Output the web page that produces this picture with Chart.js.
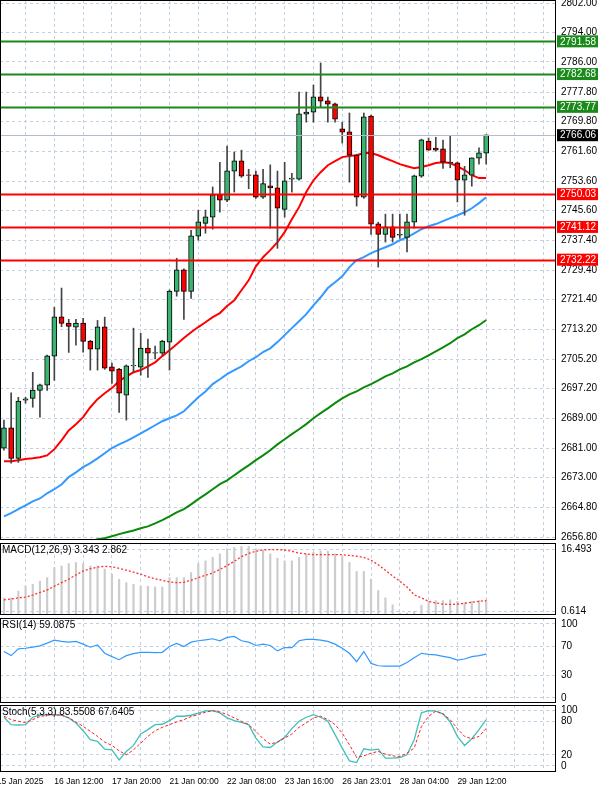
<!DOCTYPE html>
<html>
<head>
<meta charset="utf-8">
<script src="https://cdn.jsdelivr.net/npm/chart.js@4"></script>
<style>
  body { margin: 0; background: #fff; width: 600px; height: 793px; position: relative; overflow: hidden; }
  .pane { position: absolute; left: 0; width: 600px; }
</style>
</head>
<body>
<div class="pane" style="top:0;height:540px"><canvas id="main"></canvas></div>
<div class="pane" style="top:543px;height:72px"><canvas id="macd"></canvas></div>
<div class="pane" style="top:618px;height:85px"><canvas id="rsi"></canvas></div>
<div class="pane" style="top:705px;height:88px"><canvas id="stoch"></canvas></div>
<script>
// 4h candles, 15 Jan - 29 Jan 2025
const opens  = [2681.0,2686.4,2678.2,2694.0,2694.5,2696.7,2698.1,2706.0,2716.6,2714.9,2713.9,2714.9,2710.0,2707.9,2713.9,2703.0,2702.4,2695.4,2703.3,2703.0,2708.1,2706.8,2706.8,2709.8,2723.6,2729.4,2723.6,2738.6,2742.1,2743.8,2749.8,2748.4,2756.3,2759.0,2755.2,2755.2,2749.2,2752.2,2751.7,2745.9,2754.1,2754.1,2771.8,2772.3,2776.4,2775.3,2774.5,2767.7,2766.9,2760.6,2749.2,2771.2,2741.9,2739.1,2741.1,2738.9,2738.3,2742.4,2754.9,2764.4,2762.5,2762.3,2758.7,2758.5,2753.8,2755.2,2759.8,2761.2];
const highs  = [2688.6,2696.0,2694.8,2694.8,2701.6,2698.4,2706.3,2719.3,2724.5,2716.0,2716.0,2716.3,2710.3,2715.7,2716.6,2704.1,2702.7,2703.6,2713.6,2712.2,2710.6,2708.7,2710.3,2724.0,2732.6,2729.7,2740.2,2745.7,2745.7,2752.0,2758.7,2763.1,2761.5,2762.0,2756.8,2756.3,2756.8,2758.0,2756.3,2758.7,2755.7,2777.8,2777.8,2779.7,2785.7,2776.4,2774.8,2769.6,2772.1,2760.9,2772.1,2771.5,2742.4,2744.6,2744.6,2744.6,2744.6,2755.2,2765.0,2765.3,2765.5,2764.7,2765.8,2758.8,2757.6,2759.9,2762.6,2766.1];
const lows   = [2680.4,2676.9,2677.1,2693.2,2692.1,2689.4,2696.7,2699.4,2714.0,2707.0,2709.0,2707.1,2702.2,2702.2,2702.4,2698.6,2690.7,2688.6,2701.6,2700.8,2700.2,2705.2,2706.3,2702.2,2722.3,2716.0,2721.7,2737.5,2739.4,2740.5,2745.1,2748.0,2750.6,2754.6,2751.5,2748.9,2748.9,2740.8,2735.3,2743.8,2750.6,2753.8,2769.6,2769.6,2773.7,2769.6,2769.6,2763.9,2753.3,2746.8,2748.9,2739.1,2730.2,2737.0,2737.0,2738.0,2734.3,2740.8,2754.6,2762.0,2761.7,2757.0,2757.2,2747.9,2744.3,2752.2,2758.2,2758.2];
const closes = [2686.4,2678.2,2693.7,2694.3,2696.7,2698.1,2706.0,2716.6,2714.9,2714.1,2714.9,2710.0,2707.9,2713.9,2702.7,2701.9,2695.9,2703.3,2703.4,2708.1,2706.8,2706.9,2710.0,2723.6,2729.4,2723.6,2738.6,2742.4,2743.8,2749.8,2748.4,2756.3,2759.0,2754.9,2755.1,2749.2,2752.8,2751.7,2746.2,2753.6,2754.3,2771.8,2772.3,2776.4,2775.3,2774.5,2770.4,2766.9,2760.6,2749.2,2771.0,2741.9,2739.1,2741.1,2738.3,2739.0,2742.4,2754.9,2764.7,2762.0,2762.0,2758.7,2758.5,2753.8,2755.2,2759.8,2761.2,2766.1];

const maRed   = [2677.4,2677.4,2677.7,2678.0,2678.2,2678.5,2679.0,2680.7,2683.1,2685.8,2687.5,2689.4,2692.1,2694.3,2695.9,2697.3,2699.2,2700.5,2701.6,2702.2,2703.2,2704.3,2706.0,2707.6,2709.2,2710.9,2712.5,2713.9,2715.2,2716.6,2717.7,2719.6,2721.2,2723.9,2726.6,2730.4,2732.9,2734.8,2737.0,2739.7,2743.2,2746.5,2750.6,2753.8,2756.0,2757.9,2759.0,2760.1,2760.4,2760.6,2761.2,2761.2,2760.6,2759.8,2759.0,2758.2,2757.6,2757.1,2757.4,2757.9,2758.5,2758.7,2758.5,2757.6,2756.6,2755.2,2754.4,2754.4];
const maBlue  = [2662.4,2663.3,2664.4,2665.4,2666.5,2667.3,2668.7,2669.8,2671.1,2673.1,2674.4,2675.8,2676.9,2678.2,2679.6,2681.0,2682.0,2682.9,2683.9,2685.0,2686.1,2687.2,2688.3,2689.1,2689.9,2691.0,2692.9,2694.8,2696.4,2698.4,2699.7,2701.1,2702.2,2703.2,2704.6,2705.7,2707.1,2708.1,2709.8,2711.7,2713.6,2715.5,2717.4,2719.8,2722.0,2724.5,2726.1,2727.7,2730.2,2732.1,2732.9,2734.0,2734.8,2735.6,2736.4,2737.5,2738.3,2739.4,2740.5,2741.3,2741.9,2742.7,2743.5,2744.3,2745.1,2746.2,2747.6,2749.2];
const maGreen = [2647.8,2649.1,2649.7,2650.5,2651.0,2651.6,2652.4,2652.9,2653.5,2654.0,2654.6,2655.1,2655.6,2656.2,2656.5,2657.0,2657.6,2658.1,2658.6,2659.2,2659.7,2660.5,2661.4,2662.4,2663.5,2664.4,2665.7,2667.1,2668.4,2669.8,2671.2,2672.2,2673.6,2675.0,2676.3,2677.7,2679.0,2680.4,2682.0,2683.4,2684.8,2686.1,2687.5,2689.1,2690.5,2691.8,2693.2,2694.5,2695.6,2696.4,2697.5,2698.4,2699.4,2700.5,2701.3,2702.4,2703.2,2704.3,2705.2,2706.2,2707.3,2708.4,2709.5,2710.9,2711.9,2713.3,2714.4,2715.8];

const macdHist   = [4.1,4.1,5.8,7.1,7.6,8.4,9.3,11.9,12.3,12.9,13.2,12.9,12.3,12.3,11.5,10.2,8.9,8.0,7.6,7.1,7.1,6.9,6.9,9.3,9.3,9.3,10.6,12.9,13.6,14.5,15.4,16.7,17.1,17.3,17.3,16.7,16.4,15.4,14.3,13.6,13.6,14.5,15.4,15.8,16.2,16.1,15.4,14.7,13.2,10.9,10.9,8.9,6.0,4.1,2.3,0.2,0.2,0.6,2.2,3.2,3.4,3.4,3.6,3.2,2.8,3.2,3.4,3.6];
const macdSignal = [3.6,3.8,4.1,4.3,4.8,5.5,6.1,7.1,8.0,8.9,10.0,11.0,11.6,12.0,12.2,12.1,11.7,11.2,10.7,10.2,9.5,9.0,8.6,8.2,8.0,8.1,8.6,9.3,9.9,10.5,11.4,12.4,13.5,14.7,15.5,16.1,16.4,16.5,16.5,16.4,16.1,15.6,15.4,15.2,15.2,15.2,15.2,15.2,15.0,14.8,14.5,13.8,12.6,11.2,9.7,8.4,6.9,4.9,4.1,3.2,2.8,2.5,2.4,2.5,2.7,3.0,3.2,3.4];
const rsi = [62.6,57.1,66.2,67.1,68.5,70.3,74.0,78.1,76.3,75.3,76.3,72.6,68.5,71.7,60.3,55.7,51.6,57.1,59.8,61.6,61.6,61.2,61.6,69.4,73.5,69.4,75.3,77.2,78.5,79.9,77.2,81.7,83.1,77.2,75.3,70.8,72.6,70.8,63.5,68.0,68.0,77.2,79.0,79.0,78.1,76.3,72.6,67.1,60.3,48.9,62.6,46.6,43.4,42.9,42.9,42.9,47.9,54.3,60.3,58.9,58.0,56.2,54.3,51.1,52.5,55.7,57.1,59.1];
const stochK = [87.9,74.5,73.9,74.5,87.9,91.5,92.7,92.7,91.5,86.7,77.6,63.6,47.3,44.2,30.3,29.1,10.9,26.1,37.0,57.6,65.5,74.5,75.2,81.8,89.7,89.7,91.5,95.2,99.5,99.8,95.8,86.7,81.8,78.8,74.5,50.3,34.5,33.3,43.0,51.5,67.3,80.6,87.9,92.7,87.9,80.6,56.4,32.1,9.1,6.1,30.9,28.5,30.3,13.9,13.9,15.2,20.0,47.3,95.8,99.8,98.8,93.9,79.4,53.3,37.0,49.1,65.5,83.6];
const stochD = [89.7,83.6,80.6,78.2,83.6,89.1,91.5,92.1,91.5,86.7,79.4,71.5,62.4,53.3,43.0,37.0,27.3,20.0,29.1,41.2,53.3,63.6,69.7,74.5,79.4,83.6,89.1,92.7,97.0,99.8,97.6,92.7,86.7,80.6,74.5,62.4,49.1,39.4,43.0,50.3,57.6,69.7,77.6,86.7,89.7,83.6,74.5,59.4,38.2,15.2,18.2,23.0,26.1,21.2,18.2,17.0,23.0,32.1,71.5,89.7,98.8,93.9,83.6,67.3,53.3,49.1,53.3,67.6];

const priceTicks = [2802.00,2794.00,2786.00,2777.80,2769.80,2761.60,2753.60,2745.60,2737.40,2729.40,2721.40,2713.20,2705.20,2697.20,2689.00,2681.00,2673.00,2664.80,2656.80];
const resistLevels = [2791.58,2782.68,2773.77];
const supportLevels = [2750.03,2741.12,2732.22];
const lastPrice = 2766.06;
const macdTicks = [16.493,0.614];
const rsiTicks = [100,70,30,0];
const stochTicks = [100,80,20,0];
const timeIdx = [-1,7,15,23,31,39,47,55,63];
const timeLabels = ["15 Jan 2025","16 Jan 12:00","17 Jan 20:00","21 Jan 00:00","22 Jan 08:00","23 Jan 16:00","26 Jan 23:01","28 Jan 04:00","29 Jan 12:00"];
const gridIdx = [3,7,11,15,19,23,27,31,35,39,43,47,51,55,59,63,67,71,75];

const FONT = { family: "Liberation Sans", size: 10 };
const GRID = "#c3cfe2";
const idx = closes.map((_, i) => i);

function xScale(bottomPad) {
  return {
    type: "linear", min: -0.55, max: 76.7, offset: false,
    afterBuildTicks: s => { s.ticks = gridIdx.map(v => ({ value: v })); },
    afterFit: s => { s.height = bottomPad; s.paddingLeft = 0; s.paddingRight = 0; },
    ticks: { display: false },
    grid: { color: GRID, drawTicks: false, offset: false },
    border: { display: false, dash: [3, 3] }
  };
}

function yScale(min, max, ticks, fmt) {
  return {
    position: "right", min, max,
    afterBuildTicks: s => { s.ticks = ticks.map(v => ({ value: v })); },
    afterFit: s => { s.width = 44; s.paddingTop = 0; s.paddingBottom = 0; },
    ticks: { color: "#000", font: FONT, padding: 5, callback: fmt },
    grid: { color: GRID, drawTicks: false },
    border: { display: false, dash: [3, 3] }
  };
}

const frame = {
  id: "frame",
  afterDraw(chart, args, opts) {
    const { ctx, chartArea: a } = chart;
    ctx.save();
    ctx.strokeStyle = "#000";
    ctx.lineWidth = 1;
    ctx.strokeRect(a.left + 0.5, a.top + 0.5, a.right - a.left - 1, a.bottom - a.top - 1);
    if (opts.title) {
      ctx.font = "10px Liberation Sans";
      ctx.fillStyle = "#000";
      ctx.textBaseline = "top";
      ctx.fillText(opts.title, a.left + 2, a.top + 2);
    }
    ctx.restore();
  }
};

const baseOpts = (extra) => Object.assign({
  responsive: true, maintainAspectRatio: false, animation: false,
  layout: { padding: 0 },
  plugins: { legend: { display: false }, tooltip: { enabled: false } }
}, extra);

// main price pane
const levels = {
  id: "levels",
  afterDatasetsDraw(chart) {
    const { ctx, chartArea: a, scales: { y } } = chart;
    ctx.save();
    const line = (v, c, w) => {
      const py = Math.round(y.getPixelForValue(v)) + 0.5;
      ctx.strokeStyle = c; ctx.lineWidth = w;
      ctx.beginPath(); ctx.moveTo(a.left, py); ctx.lineTo(a.right, py); ctx.stroke();
    };
    line(lastPrice, "#b4bccb", 1);
    resistLevels.forEach(v => line(v, "#1a8a1a", 2));
    supportLevels.forEach(v => line(v, "#ff0000", 2));
    ctx.restore();
  },
  afterDraw(chart) {
    const { ctx, chartArea: a, scales: { y } } = chart;
    ctx.save();
    ctx.font = "10px Liberation Sans";
    ctx.textBaseline = "middle";
    const box = (v, bg) => {
      const py = y.getPixelForValue(v);
      ctx.fillStyle = bg;
      ctx.fillRect(a.right + 1, py - 6, 41, 12);
      ctx.fillStyle = "#fff";
      ctx.fillText(v.toFixed(2), a.right + 4, py + 0.5);
    };
    resistLevels.forEach(v => box(v, "#1a8a1a"));
    supportLevels.forEach(v => box(v, "#ff0000"));
    box(lastPrice, "#000");
    ctx.restore();
  }
};

new Chart(document.getElementById("main"), {
  type: "bar",
  data: {
    datasets: [
      { type: "line", data: idx.map(i => ({ x: i, y: maGreen[i] })), borderColor: "#0a8a0a", borderWidth: 2, pointRadius: 0, order: 3 },
      { type: "line", data: idx.map(i => ({ x: i, y: maBlue[i] })), borderColor: "#3399ff", borderWidth: 2, pointRadius: 0, order: 3 },
      { type: "line", data: idx.map(i => ({ x: i, y: maRed[i] })), borderColor: "#ff0000", borderWidth: 2, pointRadius: 0, order: 3 },
      { data: idx.map(i => ({ x: i, y: [lows[i], highs[i]] })), backgroundColor: "#444", barThickness: 1, grouped: false, order: 2 },
      { data: idx.map(i => ({ x: i, y: [Math.min(opens[i], closes[i]), Math.max(opens[i], closes[i]) + 0.08] })),
        backgroundColor: idx.map(i => closes[i] >= opens[i] ? "#3cb371" : "#ff0000"),
        borderColor: "#000", borderWidth: 1, borderSkipped: false, barThickness: 5, grouped: false, order: 1 }
    ]
  },
  options: baseOpts({
    scales: { x: xScale(0), y: yScale(2656.0, 2802.82, priceTicks, v => v.toFixed(2)) },
    plugins: { legend: { display: false }, tooltip: { enabled: false }, frame: {} }
  }),
  plugins: [levels, frame]
});

// MACD pane
new Chart(document.getElementById("macd"), {
  type: "bar",
  data: {
    datasets: [
      { type: "line", data: idx.map(i => ({ x: i, y: macdSignal[i] })), borderColor: "#ff3030", borderWidth: 1.3, borderDash: [2, 2], pointRadius: 0 },
      { data: idx.map(i => ({ x: i, y: macdHist[i] })), backgroundColor: "#cccccc", barThickness: 1.5 }
    ]
  },
  options: baseOpts({
    scales: { x: xScale(0), y: yScale(-0.3, 18.2, macdTicks, v => v.toFixed(3)) },
    plugins: { legend: { display: false }, tooltip: { enabled: false }, frame: { title: "MACD(12,26,9) 3.343 2.862" } }
  }),
  plugins: [frame]
});

// RSI pane
new Chart(document.getElementById("rsi"), {
  type: "line",
  data: { datasets: [{ data: idx.map(i => ({ x: i, y: rsi[i] })), borderColor: "#3399ff", borderWidth: 1.2, pointRadius: 0 }] },
  options: baseOpts({
    scales: { x: xScale(0), y: yScale(-7, 108, rsiTicks, v => String(v)) },
    plugins: { legend: { display: false }, tooltip: { enabled: false }, frame: { title: "RSI(14) 59.0875" } }
  }),
  plugins: [frame]
});

// Stochastic pane + time axis
const timeAxis = {
  id: "timeAxis",
  afterDraw(chart) {
    const { ctx, chartArea: a, scales: { x } } = chart;
    ctx.save();
    ctx.font = "8.5px Liberation Sans";
    ctx.fillStyle = "#000";
    ctx.textBaseline = "middle";
    timeIdx.forEach((v, k) => ctx.fillText(timeLabels[k], x.getPixelForValue(v), a.bottom + 10));
    ctx.restore();
  }
};

new Chart(document.getElementById("stoch"), {
  type: "line",
  data: {
    datasets: [
      { data: idx.map(i => ({ x: i, y: stochD[i] })), borderColor: "#ff2020", borderWidth: 1, borderDash: [3, 2], pointRadius: 0 },
      { data: idx.map(i => ({ x: i, y: stochK[i] })), borderColor: "#40c0b8", borderWidth: 1.3, pointRadius: 0 }
    ]
  },
  options: baseOpts({
    scales: { x: xScale(21), y: yScale(-11, 110, stochTicks, v => String(v)) },
    plugins: { legend: { display: false }, tooltip: { enabled: false }, frame: { title: "Stoch(5,3,3) 83.5508 67.6405" } }
  }),
  plugins: [frame, timeAxis]
});
</script>
</body>
</html>
